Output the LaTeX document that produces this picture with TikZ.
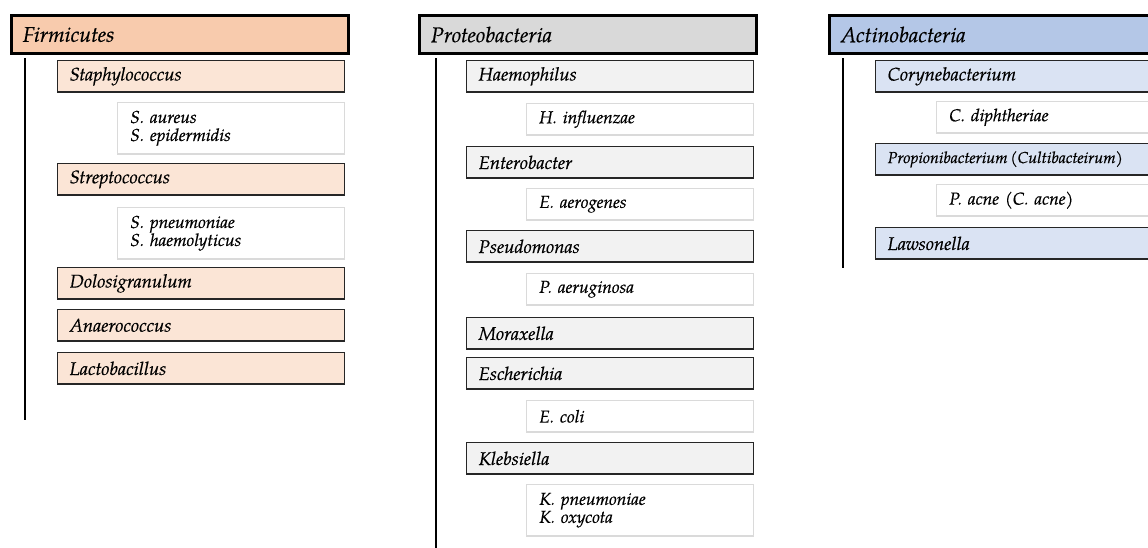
\documentclass[tikz,border=0pt]{standalone}
\usepackage{fontspec}
\setmainfont{TeX Gyre Pagella}[ItalicFeatures={FakeBold=0.4}]
\definecolor{firmHead}{HTML}{F8CBAD}
\definecolor{firmGenus}{HTML}{FBE5D6}
\definecolor{protHead}{HTML}{D9D9D9}
\definecolor{protGenus}{HTML}{F2F2F2}
\definecolor{actHead}{HTML}{B4C7E7}
\definecolor{actGenus}{HTML}{DAE3F3}
\definecolor{specBorder}{HTML}{DADADA}
\tikzset{
  box/.style={rectangle, anchor=north west, align=left, inner ysep=0pt},
  head/.style={box, draw=black, line width=2.3pt, minimum width=253pt, minimum height=28.5pt,
    text width=236pt, inner xsep=8.5pt, font=\itshape\fontsize{16}{18}\selectfont},
  genus/.style={box, draw=black!85, line width=1pt, minimum height=23.5pt,
    text width=197pt, inner xsep=9pt, font=\itshape\fontsize{13.8}{15}\selectfont},
  species/.style={box, draw=specBorder, fill=white, line width=0.9pt, minimum height=23.5pt,
    text width=151pt, inner xsep=9.5pt, font=\itshape\fontsize{13}{13.5}\selectfont},
  species2/.style={species, minimum height=38.5pt},
  vline/.style={draw=black, line width=1.4pt},
}
\begin{document}
\begin{tikzpicture}[x=0.75pt,y=-0.75pt]
\path[use as bounding box] (0,0) rectangle (1148,547);
\clip (0,0) rectangle (1148,547);
% ---------- Firmicutes ----------
\node[head, fill=firmHead] (firm) at (10,14) {Firmicutes};
\coordinate (fa) at (25,58);
\coordinate (fb) at (25,420);
\draw[vline] (fa) -- (fb);
\node[genus, fill=firmGenus] (staph) at (57,60) {Staphylococcus};
\node[species2] (staphsp) at (117,102) {S. aureus\\S. epidermidis};
\node[genus, fill=firmGenus] (strep) at (57,163) {Streptococcus};
\node[species2] (strepsp) at (117,207) {S. pneumoniae\\S. haemolyticus};
\node[genus, fill=firmGenus] (dolo) at (57,267) {Dolosigranulum};
\node[genus, fill=firmGenus] (anae) at (57,309) {Anaerococcus};
\node[genus, fill=firmGenus] (lacto) at (57,352) {Lactobacillus};
% ---------- Proteobacteria ----------
\node[head, fill=protHead] (prot) at (418,14) {Proteobacteria};
\coordinate (pa) at (436,58);
\coordinate (pb) at (436,548);
\draw[vline] (pa) -- (pb);
\node[genus, fill=protGenus] (haem) at (466,60) {Haemophilus};
\node[species] (haemsp) at (526,103) {H. influenzae};
\node[genus, fill=protGenus] (ente) at (466,146) {Enterobacter};
\node[species] (entesp) at (526,188) {E. aerogenes};
\node[genus, fill=protGenus] (pseu) at (466,230) {Pseudomonas};
\node[species] (pseusp) at (526,273) {P. aeruginosa};
\node[genus, fill=protGenus] (mora) at (466,317) {Moraxella};
\node[genus, fill=protGenus] (esch) at (466,357) {Escherichia};
\node[species] (eschsp) at (526,400) {E. coli};
\node[genus, fill=protGenus] (kleb) at (466,442) {Klebsiella};
\node[species2] (klebsp) at (526,484) {K. pneumoniae\\K. oxycota};
% ---------- Actinobacteria ----------
\node[head, fill=actHead] (acti) at (828,14) {Actinobacteria};
\coordinate (aa) at (843,58);
\coordinate (ab) at (843,268);
\draw[vline] (aa) -- (ab);
\node[genus, fill=actGenus] (cory) at (875,60) {Corynebacterium};
\node[species] (corysp) at (936,101) {C. diphtheriae};
\node[genus, fill=actGenus, font=\itshape\fontsize{12}{13}\selectfont] (prop) at (875,143) {Propionibacterium\,(Cultibacteirum)};
\node[species] (propsp) at (936,184) {P. acne (C. acne)};
\node[genus, fill=actGenus] (laws) at (875,227) {Lawsonella};
\end{tikzpicture}
\end{document}
